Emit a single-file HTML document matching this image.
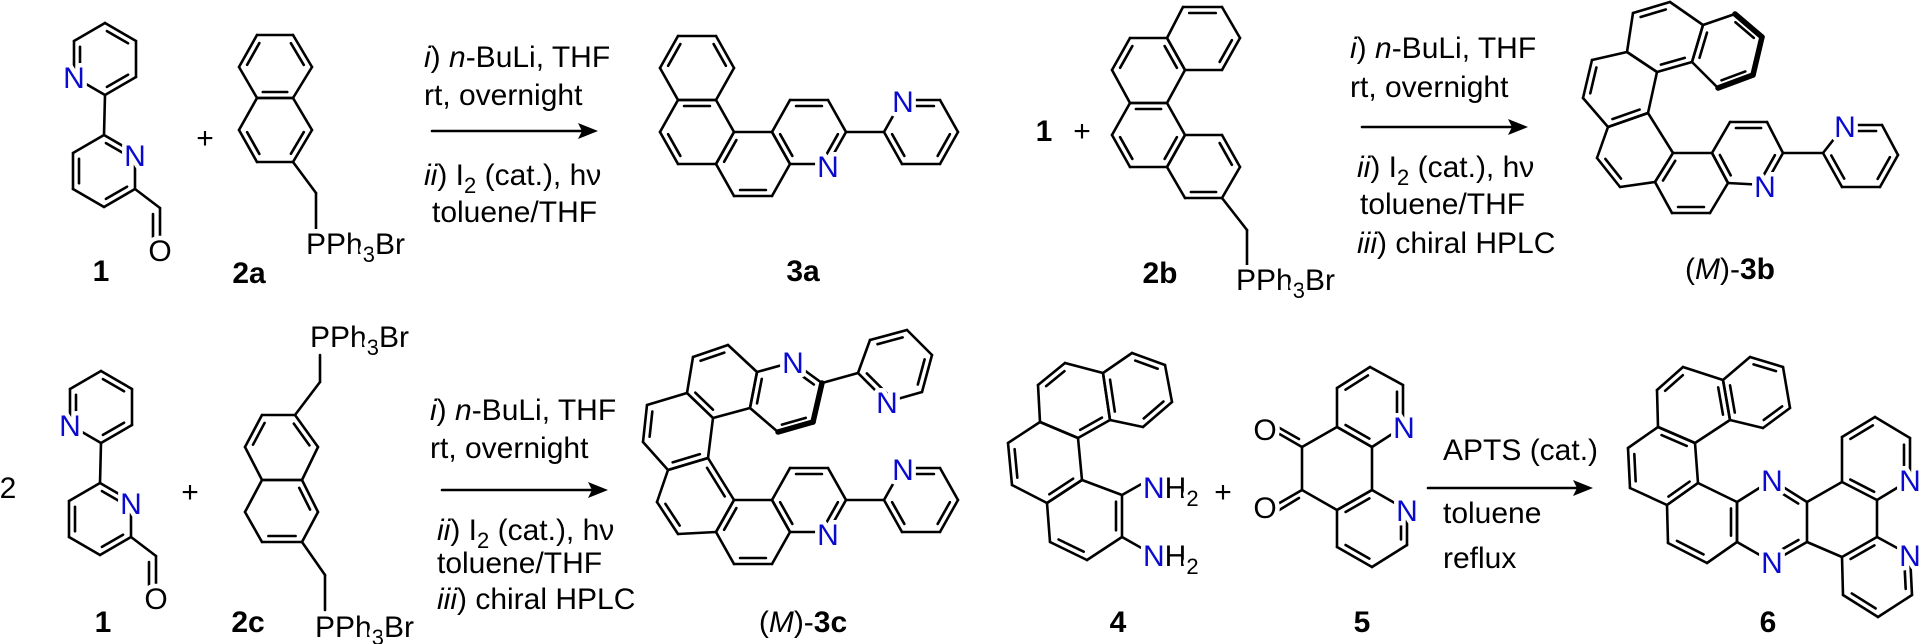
<!DOCTYPE html>
<html><head><meta charset="utf-8"><style>
html,body{margin:0;padding:0;background:#fff;}
svg{display:block;}
text{font-family:"Liberation Sans",Arial,sans-serif;font-size:30px;fill:#000;}
.h{stroke:#fff;stroke-width:9;paint-order:stroke;stroke-linejoin:round;}
.n{fill:#0a0ad0;}
.b{font-weight:bold;}
</style></head><body>
<svg id="s" width="1920" height="644" viewBox="0 0 1920 644" xmlns="http://www.w3.org/2000/svg">
<g id="bonds" stroke="#000" stroke-width="2.6" stroke-linecap="round" fill="none"></g>
<g id="heads" fill="#000">
<polygon points="598,131 578,123 582,131 578,139"/>
<polygon points="1528,127 1508,119 1512,127 1508,135"/>
<polygon points="608,490 588,482 592,490 588,498"/>
<polygon points="1593,488 1573,480 1577,488 1573,496"/>
</g>
<g id="txt">
<!-- compound 1 top -->
<text class="h n" x="74" y="77" dy="0.36em" text-anchor="middle">N</text>
<text class="h n" x="135" y="155" dy="0.36em" text-anchor="middle">N</text>
<text class="h" x="160" y="250" dy="0.36em" text-anchor="middle">O</text>
<text class="b" x="101" y="281" text-anchor="middle">1</text>
<text x="205" y="148" text-anchor="middle">+</text>
<text class="h" x="306" y="254">PPh<tspan font-size="22" dy="8">3</tspan><tspan dy="-8">Br</tspan></text>
<text class="b" x="249" y="283" text-anchor="middle">2a</text>
<!-- arrow 1 text -->
<text x="424" y="67"><tspan font-style="italic">i</tspan>) <tspan font-style="italic">n</tspan>-BuLi, THF</text>
<text x="424" y="105">rt, overnight</text>
<text x="424" y="185"><tspan font-style="italic">ii</tspan>) I<tspan font-size="22" dy="8">2</tspan><tspan dy="-8"> (cat.), hν</tspan></text>
<text x="432" y="222">toluene/THF</text>
<!-- 3a -->
<text class="h n" x="828" y="166" dy="0.36em" text-anchor="middle">N</text>
<text class="h n" x="903" y="101" dy="0.36em" text-anchor="middle">N</text>
<text class="b" x="803" y="281" text-anchor="middle">3a</text>
<!-- 1 + 2b -->
<text class="b" x="1044" y="141" text-anchor="middle">1</text>
<text x="1082" y="141" text-anchor="middle">+</text>
<text class="h" x="1236" y="290">PPh<tspan font-size="22" dy="8">3</tspan><tspan dy="-8">Br</tspan></text>
<text class="b" x="1160" y="283" text-anchor="middle">2b</text>
<!-- arrow 2 text -->
<text x="1350" y="58"><tspan font-style="italic">i</tspan>) <tspan font-style="italic">n</tspan>-BuLi, THF</text>
<text x="1350" y="97">rt, overnight</text>
<text x="1357" y="177"><tspan font-style="italic">ii</tspan>) I<tspan font-size="22" dy="8">2</tspan><tspan dy="-8"> (cat.), hν</tspan></text>
<text x="1360" y="214">toluene/THF</text>
<text x="1357" y="253"><tspan font-style="italic">iii</tspan>) chiral HPLC</text>
<!-- 3b -->
<text class="h n" x="1765" y="186" dy="0.36em" text-anchor="middle">N</text>
<text class="h n" x="1845" y="126" dy="0.36em" text-anchor="middle">N</text>
<text x="1730" y="279" text-anchor="middle">(<tspan font-style="italic">M</tspan>)-<tspan font-weight="bold">3b</tspan></text>
<!-- bottom row: 2 x 1 -->
<text x="8" y="498" text-anchor="middle">2</text>
<text class="h n" x="70" y="425" dy="0.36em" text-anchor="middle">N</text>
<text class="h n" x="131" y="503" dy="0.36em" text-anchor="middle">N</text>
<text class="h" x="156" y="598" dy="0.36em" text-anchor="middle">O</text>
<text class="b" x="103" y="632" text-anchor="middle">1</text>
<text x="190" y="502" text-anchor="middle">+</text>
<text class="h" x="310" y="347">PPh<tspan font-size="22" dy="8">3</tspan><tspan dy="-8">Br</tspan></text>
<text class="h" x="315" y="637">PPh<tspan font-size="22" dy="8">3</tspan><tspan dy="-8">Br</tspan></text>
<text class="b" x="248" y="632" text-anchor="middle">2c</text>
<!-- arrow 3 text -->
<text x="430" y="420"><tspan font-style="italic">i</tspan>) <tspan font-style="italic">n</tspan>-BuLi, THF</text>
<text x="430" y="458">rt, overnight</text>
<text x="437" y="540"><tspan font-style="italic">ii</tspan>) I<tspan font-size="22" dy="8">2</tspan><tspan dy="-8"> (cat.), hν</tspan></text>
<text x="437" y="573">toluene/THF</text>
<text x="437" y="609"><tspan font-style="italic">iii</tspan>) chiral HPLC</text>
<!-- 3c -->
<text class="h n" x="793" y="362" dy="0.36em" text-anchor="middle">N</text>
<text class="h n" x="887" y="402" dy="0.36em" text-anchor="middle">N</text>
<text class="h n" x="828" y="534" dy="0.36em" text-anchor="middle">N</text>
<text class="h n" x="903" y="469" dy="0.36em" text-anchor="middle">N</text>
<text x="803" y="632" text-anchor="middle">(<tspan font-style="italic">M</tspan>)-<tspan font-weight="bold">3c</tspan></text>
<!-- 4 -->
<text class="h" x="1143" y="498"><tspan class="n">N</tspan>H<tspan font-size="22" dy="8">2</tspan></text>
<text class="h" x="1143" y="566"><tspan class="n">N</tspan>H<tspan font-size="22" dy="8">2</tspan></text>
<text class="b" x="1118" y="632" text-anchor="middle">4</text>
<text x="1223" y="502" text-anchor="middle">+</text>
<!-- 5 -->
<text class="h n" x="1404" y="427" dy="0.36em" text-anchor="middle">N</text>
<text class="h n" x="1407" y="510" dy="0.36em" text-anchor="middle">N</text>
<text class="h" x="1265" y="429" dy="0.36em" text-anchor="middle">O</text>
<text class="h" x="1265" y="507" dy="0.36em" text-anchor="middle">O</text>
<text class="b" x="1362" y="632" text-anchor="middle">5</text>
<!-- arrow 4 text -->
<text x="1443" y="460">APTS (cat.)</text>
<text x="1443" y="523">toluene</text>
<text x="1443" y="568">reflux</text>
<!-- 6 -->
<text class="h n" x="1772" y="480" dy="0.36em" text-anchor="middle">N</text>
<text class="h n" x="1772" y="562" dy="0.36em" text-anchor="middle">N</text>
<text class="h n" x="1910" y="480" dy="0.36em" text-anchor="middle">N</text>
<text class="h n" x="1910" y="555" dy="0.36em" text-anchor="middle">N</text>
<text class="b" x="1768" y="632" text-anchor="middle">6</text>
</g>
</svg>
<script>
(function(){
var out=[];
function L(a,b,w){out.push('<line x1="'+a[0]+'" y1="'+a[1]+'" x2="'+b[0]+'" y2="'+b[1]+'"'+(w?' stroke-width="'+w+'"':'')+'/>');}
function R(p,d,bold,dx,dy){
  dx=dx||0;dy=dy||0;
  p=p.map(function(q){return [q[0]+dx,q[1]+dy];});
  var n=p.length,cx=0,cy=0;
  p.forEach(function(q){cx+=q[0];cy+=q[1];});cx/=n;cy/=n;
  for(var i=0;i<n;i++){var w=(bold&&bold.indexOf(i)>=0)?5.5:0;L(p[i],p[(i+1)%n],w);}
  (d||[]).forEach(function(i){
    var a=p[i],b=p[(i+1)%n];
    var mx=(a[0]+b[0])/2,my=(a[1]+b[1])/2;
    var vx=b[0]-a[0],vy=b[1]-a[1],len=Math.hypot(vx,vy);
    var nx=-vy/len,ny=vx/len;
    if(nx*(cx-mx)+ny*(cy-my)<0){nx=-nx;ny=-ny;}
    var o=6,s=0.16;
    L([a[0]+nx*o+vx*s,a[1]+ny*o+vy*s],[b[0]+nx*o-vx*s,b[1]+ny*o-vy*s]);
  });
}
function B(a,b,dx,dy){dx=dx||0;dy=dy||0;L([a[0]+dx,a[1]+dy],[b[0]+dx,b[1]+dy]);}
// compound 1
function comp1(dx,dy){
  R([[74,41],[105,23],[136,41],[136,77],[105,95],[74,77]],[5,1,3],null,dx,dy);
  B([105,95],[104,135],dx,dy);
  R([[73,153],[104,135],[135,153],[135,189],[104,207],[73,189]],[1,5,3],null,dx,dy);
  B([135,189],[160,208],dx,dy);B([160,208],[160,238],dx,dy);B([153,214],[153,238],dx,dy);
}
comp1(0,0);comp1(-4,348);
// 2a
R([[239,67],[257,35],[293,35],[312,67],[293,98],[257,98]],[0,2,4]);
R([[239,130],[257,98],[293,98],[312,130],[293,162],[257,162]],[5,3]);
B([293,162],[316,193]);B([316,193],[316,232]);
// arrow 1
L([432,131],[585,131]);
// 3a
function r3(dy,withTop){
  if(withTop)R([[660,68],[678,36],[716,36],[734,68],[716,100],[678,100]],[0,2]);
  if(withTop)R([[660,132],[678,100],[716,100],[734,132],[716,164],[678,164]],[1,5]);
  R([[716,164],[734,132],[772,132],[790,164],[772,196],[734,196]],[0,4],null,0,dy);
  R([[772,132],[790,100],[828,100],[846,132],[828,164],[790,164]],[1,3,5],null,0,dy);
  B([846,132],[884,132],0,dy);
  R([[884,132],[902,100],[940,100],[958,132],[940,164],[902,164]],[1,3,5],null,0,dy);
}
r3(0,true);
// 2b
R([[1167,38],[1183,7],[1222,7],[1240,38],[1222,70],[1185,70]],[1,3]);
R([[1112,70],[1130,38],[1167,38],[1185,70],[1167,103],[1130,103]],[0,2]);
R([[1112,135],[1130,103],[1167,103],[1185,135],[1167,167],[1130,167]],[1,3,5]);
R([[1167,167],[1185,135],[1222,135],[1240,167],[1222,198],[1185,198]],[2,4]);
B([1222,198],[1247,230]);B([1247,230],[1247,266]);
// arrow 2
L([1362,127],[1515,127]);
// 3b
R([[1703,25],[1735,14],[1762,37],[1753,75],[1718,88],[1692,62]],[1,3,5],[1,2,3]);
R([[1633,13],[1670,2],[1703,25],[1692,62],[1657,72],[1627,52]],[0,3]);
R([[1592,60],[1627,52],[1657,72],[1648,113],[1608,127],[1583,98]],[3,5]);
R([[1608,127],[1648,113],[1673,153],[1655,182],[1620,187],[1597,158]],[4]);
R([[1655,182],[1673,153],[1712,153],[1728,183],[1710,213],[1672,213]],[0,4]);
R([[1712,153],[1730,122],[1767,122],[1783,153],[1765,185],[1728,183]],[1,3,5]);
B([1783,153],[1823,153]);
R([[1823,153],[1845,125],[1882,125],[1898,155],[1880,187],[1842,187]],[1,3,5]);
// 2c
R([[245,447],[262,415],[295,415],[318,447],[302,480],[262,480]],[0,2]);
R([[245,512],[262,480],[302,480],[318,512],[302,542],[262,542]],[2,4]);
B([295,415],[320,382]);B([320,382],[320,355]);
B([302,542],[325,575]);B([325,575],[325,610]);
// arrow 3
L([442,490],[595,490]);
// 3c
R([[687,393],[693,357],[728,345],[757,372],[750,408],[713,418]],[1,5]);
R([[647,405],[687,393],[713,418],[708,458],[668,470],[643,442]],[3,5]);
R([[757,372],[793,362],[822,383],[813,422],[778,432],[750,408]],[1,3,5],[2,3]);
B([822,383],[858,373]);
R([[858,373],[870,340],[907,330],[932,355],[922,392],[887,402]],[1,3,5]);
R([[657,502],[668,470],[708,458],[734,500],[716,532],[678,534]],[5,2]);
r3(368,false);
// 4
R([[1103,373],[1132,353],[1165,365],[1172,402],[1143,427],[1110,420]],[1,3,5]);
R([[1038,385],[1065,363],[1103,373],[1110,420],[1078,438],[1040,422]],[0,3]);
R([[1008,443],[1040,422],[1078,438],[1082,480],[1047,503],[1012,485]],[5,3]);
R([[1047,503],[1082,480],[1122,495],[1122,537],[1087,560],[1050,542]],[2,4]);
B([1122,495],[1145,482]);B([1122,537],[1145,550]);
// 5
R([[1337,388],[1370,367],[1403,385],[1403,427],[1372,447],[1337,427]],[0,2,4]);
R([[1337,427],[1372,447],[1372,490],[1337,510],[1302,490],[1302,447]],[]);
R([[1337,510],[1372,490],[1407,510],[1407,545],[1372,567],[1337,547]],[0,2,4]);
B([1302,447],[1276,432]);B([1299,439],[1276,426]);
B([1302,490],[1276,505]);B([1299,498],[1276,512]);
// arrow 4
L([1428,488],[1580,488]);
// 6
R([[1723,380],[1750,357],[1783,367],[1790,408],[1763,428],[1730,420]],[1,3,5]);
R([[1657,390],[1683,367],[1723,380],[1730,420],[1695,443],[1658,427]],[0,2]);
R([[1628,448],[1658,427],[1695,443],[1698,483],[1667,505],[1630,488]],[1,3,5]);
R([[1667,505],[1698,483],[1737,502],[1737,542],[1707,563],[1668,543]],[2,4]);
R([[1737,502],[1772,480],[1807,502],[1807,542],[1772,562],[1737,542]],[1,3]);
B([1807,502],[1842,482]);B([1807,542],[1842,557]);
R([[1842,482],[1842,437],[1875,417],[1910,438],[1910,480],[1877,500]],[1,3,5]);
B([1877,500],[1877,537]);
R([[1842,557],[1877,537],[1910,555],[1912,595],[1878,617],[1843,595]],[0,2,4]);
document.getElementById('bonds').innerHTML=out.join('');
})();
</script>
</body></html>
